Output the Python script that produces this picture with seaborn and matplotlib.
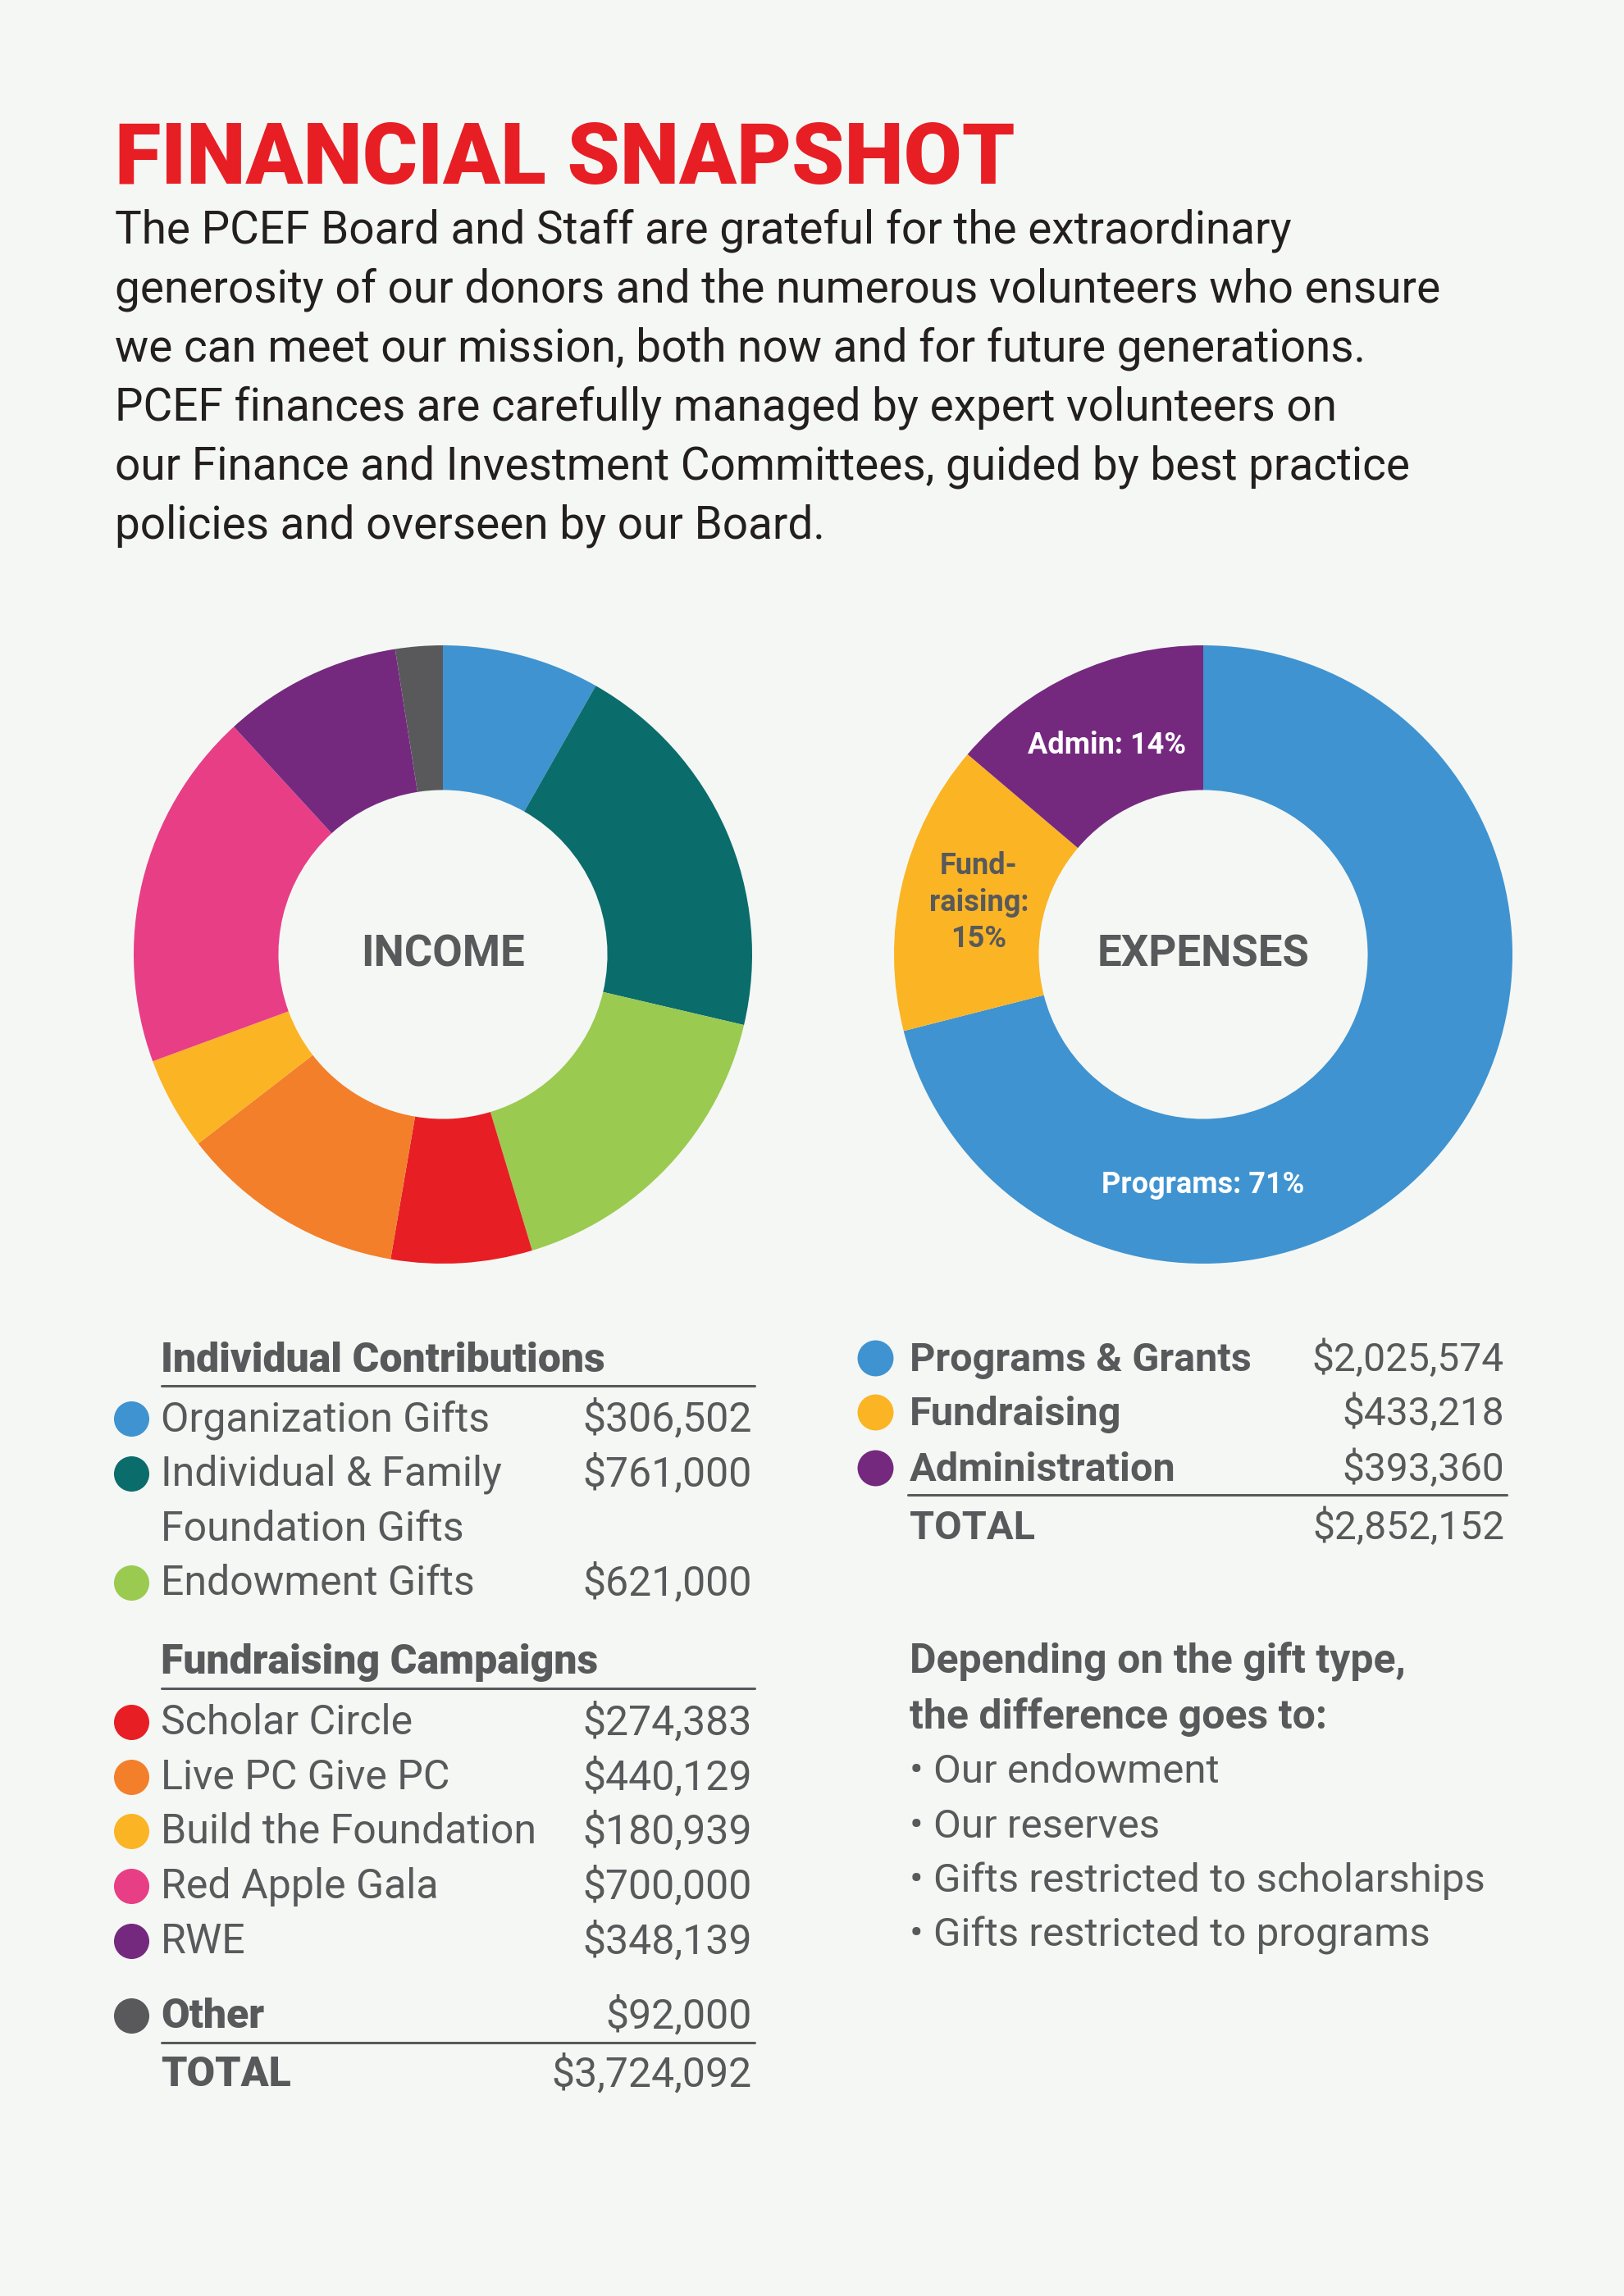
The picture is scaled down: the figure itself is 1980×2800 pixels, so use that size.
import matplotlib
matplotlib.use("Agg")
import matplotlib.pyplot as plt
import seaborn as sns
import numpy as np

# ---- data ----
income_labels = ["Organization Gifts", "Individual & Family\nFoundation Gifts", "Endowment Gifts",
                 "Scholar Circle", "Live PC Give PC", "Build the Foundation", "Red Apple Gala",
                 "RWE", "Other"]
income_values = [306502, 761000, 621000, 274383, 440129, 180939, 700000, 348139, 92000]
income_colors = ["#3F93D0", "#0B6C6C", "#9ACA50", "#E81E25", "#F37F2B",
                 "#FBB424", "#E83E85", "#74297F", "#59595C"]

expense_labels = ["Programs & Grants", "Fundraising", "Administration"]
expense_short = ["Programs", "Fund-\nraising", "Admin"]
expense_values = [2025574, 433218, 393360]
expense_colors = ["#3F93D0", "#FBB424", "#74297F"]

intro_lines = [
    "The PCEF Board and Staff are grateful for the extraordinary",
    "generosity of our donors and the numerous volunteers who ensure",
    "we can meet our mission, both now and for future generations.",
    "PCEF finances are carefully managed by expert volunteers on",
    "our Finance and Investment Committees, guided by best practice",
    "policies and overseen by our Board.",
]
difference_head = ["Depending on the gift type,", "the difference goes to:"]
difference_items = ["Our endowment", "Our reserves",
                    "Gifts restricted to scholarships", "Gifts restricted to programs"]

BG = "#F5F7F4"
GRAY = "#58595B"
RED = "#E81E25"

sns.set_style("white")
plt.rcParams["font.family"] = ["Roboto", "DejaVu Sans"]
narrow = ["Liberation Sans Narrow", "Roboto", "DejaVu Sans"]

W, H = 1980, 2800
fig = plt.figure(figsize=(W / 100, H / 100), dpi=100, facecolor=BG)

# text layer in pixel coordinates
ax = fig.add_axes([0, 0, 1, 1])
ax.set_xlim(0, W)
ax.set_ylim(H, 0)
ax.axis("off")

ax.text(140, 224, "FINANCIAL SNAPSHOT", color=RED, fontsize=74, fontweight="black", va="baseline")
for i, line in enumerate(intro_lines):
    ax.text(140, 296 + i * 72.2, line, color="#231F20", fontsize=39.5, va="baseline")


def donut(cx, cy, r, values, colors):
    pax = fig.add_axes([(cx - r) / W, 1 - (cy + r) / H, 2 * r / W, 2 * r / H])
    wedges, _ = pax.pie(values, colors=colors, startangle=90, counterclock=False,
                        wedgeprops=dict(width=0.468, linewidth=0))
    pax.set_xlim(-1, 1)
    pax.set_ylim(-1, 1)
    pax.set_facecolor("none")
    return pax, wedges


inc_ax, _ = donut(540, 1164, 377, income_values, income_colors)
inc_ax.text(0, 0, "INCOME", ha="center", va="center", fontsize=38, fontweight="bold",
            color=GRAY, family=narrow)

exp_ax, exp_wedges = donut(1467, 1164, 377, expense_values, expense_colors)
exp_ax.text(0, 0, "EXPENSES", ha="center", va="center", fontsize=38, fontweight="bold",
            color=GRAY, family=narrow)
exp_total = sum(expense_values)
for k, (w, short, v) in enumerate(zip(exp_wedges, expense_short, expense_values)):
    pct = round(100 * v / exp_total)
    if k == 0:
        ang = 270.0
    else:
        ang = (w.theta1 + w.theta2) / 2
    rr = 0.745
    x, y = rr * np.cos(np.radians(ang)), rr * np.sin(np.radians(ang))
    label = f"{short}: {pct}%" if k != 1 else f"{short}:\n{pct}%"
    exp_ax.text(x, y, label, ha="center", va="center", fontsize=26, fontweight="bold",
                color=GRAY if k == 1 else "white", family=narrow, linespacing=1.3)

# ---- left table ----
LX, LDOT, LR = 196, 160, 917
FS = 36


def money(v):
    return f"${v:,.0f}"


def row(label, value, color, base, bold=False):
    lines = label.split("\n")
    for j, ln in enumerate(lines):
        ax.text(LX, base + j * 66.8, ln, fontsize=FS, color=GRAY, va="baseline",
                fontweight="heavy" if bold else "normal")
    ax.text(LR, base, money(value), fontsize=FS, color=GRAY, va="baseline", ha="right")
    if color:
        ax.scatter([LDOT], [base - 15], s=960, color=color, linewidths=0)


ax.text(LX, 1673, "Individual Contributions", fontsize=36, fontweight="heavy", color=GRAY, va="baseline")
ax.plot([197, 920], [1690, 1690], color=GRAY, lw=2.2)
for i, b in zip(range(3), [1745, 1812, 1945]):
    row(income_labels[i], income_values[i], income_colors[i], b)

ax.text(LX, 2041, "Fundraising Campaigns", fontsize=36, fontweight="heavy", color=GRAY, va="baseline")
ax.plot([197, 920], [2059, 2059], color=GRAY, lw=2.2)
for i, b in zip(range(3, 8), [2115, 2182, 2248, 2315, 2382]):
    row(income_labels[i], income_values[i], income_colors[i], b)

row(income_labels[8], income_values[8], income_colors[8], 2473, bold=True)
ax.plot([197, 920], [2491, 2491], color=GRAY, lw=2.2)
row("TOTAL", sum(income_values), None, 2544, bold=True)

# ---- right table ----
RX, RDOT, RR = 1109, 1067, 1834
for lab, v, c, b in zip(expense_labels, expense_values, expense_colors, [1672, 1738, 1806]):
    ax.text(RX, b, lab, fontsize=35, fontweight="bold", color=GRAY, va="baseline")
    ax.text(RR, b, money(v), fontsize=34.5, color=GRAY, va="baseline", ha="right")
    ax.scatter([RDOT], [b - 16], s=1000, color=c, linewidths=0)
ax.plot([1107, 1837], [1823, 1823], color=GRAY, lw=2.2)
ax.text(RX, 1877, "TOTAL", fontsize=35, fontweight="bold", color=GRAY, va="baseline")
ax.text(RR, 1877, money(exp_total), fontsize=34.5, color=GRAY, va="baseline", ha="right")

for i, t in enumerate(difference_head):
    ax.text(RX, 2040 + i * 68, t, fontsize=36, fontweight="bold", color=GRAY, va="baseline")
for i, t in enumerate(difference_items):
    ax.text(RX, 2174.5 + i * 66.3, "\u2022 " + t, fontsize=35.5, color=GRAY, va="baseline")

fig.savefig("out.png", dpi=100, facecolor=BG)
